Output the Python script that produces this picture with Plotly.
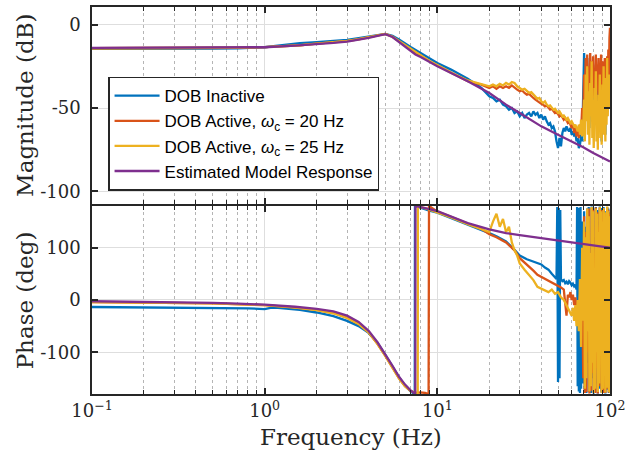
import plotly.graph_objects as go

# ---------------- data ----------------
# Noisy high-frequency region shared frequency grid (Hz)
f_noise = [70, 70.8, 71.5, 72.3, 73, 73.8, 74.5, 75.3, 76, 76.8, 77.5, 78.3, 79, 79.8,
           80.5, 81.3, 82, 82.8, 83.5, 84.3, 85, 85.8, 86.5, 87.3, 88, 88.8, 89.5, 90.3,
           91, 91.8, 92.5, 93.3, 94, 94.8, 95.5, 96.3, 97, 97.8, 98.5, 99.3, 100]

# Magnitude, mid-frequency grid 20..69 Hz
f_mid = [20, 21, 22, 23, 24, 25, 26, 27, 28, 29, 30, 31, 32, 33, 34, 35, 36, 37, 38, 39,
         40, 41, 42, 43, 44, 45, 46, 47, 48, 49, 50, 51, 52, 53, 54, 55, 56, 57, 58, 59,
         60, 61, 62, 63, 64, 65, 66, 67, 68, 69]

# Low-frequency grid for magnitude (smooth part)
f_low_mag = [0.1, 0.2, 0.3, 0.5, 0.7, 1.0, 1.3, 1.6, 2.0, 2.5, 3.0, 3.5, 4.0, 4.5, 5.0,
             5.5, 6.0, 7.0, 8.0, 9.0, 10, 12, 15, 18]

# DOB Inactive (blue)
mag_blue_low = [-14.5, -14.6, -14.5, -14.4, -14.2, -13.6, -12.2, -11.2, -10.6, -10.0, -9.2,
                -8.2, -7.2, -6.2, -5.6, -6.8, -9.0, -13.5, -17.0, -20.5, -23.0, -27.0, -32.5, -38.0]
mag_blue_mid = [-43, -44, -46, -45, -48, -49, -51, -50, -53, -52, -55, -53, -56, -54, -53, -55,
                -52, -54, -53, -56, -54, -57, -55, -58, -60, -59, -62, -61, -64, -70, -74, -68,
                -73, -65, -62, -64, -61, -63, -64, -62, -66, -64, -67, -65, -70, -68, -74, -72,
                -66, -70]
mag_blue_noise = [-45, -17, -60, -25, -50, -20, -55, -35, -62, -28, -48, -22, -58, -40, -66,
                  -30, -52, -24, -60, -38, -68, -33, -55, -27, -62, -42, -70, -31, -53, -26,
                  -60, -39, -66, -29, -55, -24, -50, -35, -45, -28, -40]

# DOB Active, wc = 20 Hz (orange)
mag_orange_low = [-14.2, -14.2, -14.2, -14.1, -13.9, -13.5, -13.0, -12.5, -11.5, -10.7, -9.9,
                  -8.9, -7.7, -6.5, -5.6, -7.3, -10.0, -15.0, -18.5, -22.0, -24.5, -29.0, -34.0, -36.0]
mag_orange_mid = [-38, -37, -38.5, -37, -38, -37, -38, -36.5, -38, -39, -40, -39.5, -41, -42,
                  -41.5, -43, -44, -45, -46, -47, -47.5, -48, -49, -48.5, -50, -51, -50.5, -52,
                  -53, -52.5, -54, -55, -54, -56, -57, -56, -58, -59, -58, -60, -62, -60, -65,
                  -62, -67, -63, -68, -60, -64, -50]
mag_orange_noise = [-55, -30, -48, -20, -40, -18, -45, -25, -38, -17, -42, -22, -35, -19, -44,
                    -28, -40, -18, -46, -24, -36, -20, -42, -26, -38, -18, -45, -22, -40, -28,
                    -35, -20, -44, -24, -38, -19, -42, -15, -35, -8, -2]

# DOB Active, wc = 25 Hz (yellow)
mag_yellow_low = [-14.2, -14.2, -14.2, -14.1, -13.9, -13.5, -13.0, -12.4, -11.4, -10.6, -9.8,
                  -8.8, -7.6, -6.4, -5.6, -7.3, -9.9, -14.8, -18.3, -21.8, -24.3, -28.8, -33.5, -35.5]
mag_yellow_mid = [-37, -36, -37, -35.5, -36.5, -35, -36, -34.5, -35, -37, -38, -39, -38.5, -40,
                  -41, -40.5, -42, -43, -44.5, -44, -46, -47, -46, -48, -49, -48.5, -50, -51,
                  -50.5, -52, -53, -52, -54, -55, -54.5, -56, -57, -56, -58, -59, -58, -60,
                  -61, -60, -62, -64, -60, -66, -57, -67]
mag_yellow_noise = [-62, -45, -70, -30, -58, -25, -66, -40, -72, -35, -55, -22, -68, -45, -74,
                    -38, -60, -28, -70, -50, -75, -42, -62, -30, -68, -48, -72, -36, -58, -25,
                    -66, -44, -70, -32, -60, -20, -55, -40, -50, -30, -45]

# Estimated model (purple)
f_model = [0.1, 0.2, 0.3, 0.5, 0.7, 1.0, 1.5, 2.0, 2.5, 3.0, 3.5, 4.0, 4.5, 5.0, 5.5, 6.0,
           6.5, 7.0, 7.3, 7.45, 7.47, 8.0, 9.0, 10, 12, 15, 20, 25, 30, 40, 50, 60, 70, 80, 90, 100]
mag_model = [-14.0, -14.0, -14.0, -14.0, -13.9, -13.6, -12.6, -11.8, -11.0, -10.2, -9.2, -8.0,
             -6.8, -5.8, -7.5, -10.5, -13.5, -16.0, -17.2, -17.8, -17.9, -19.5, -22.5, -25.0,
             -29.0, -34.0, -41.0, -48.0, -53.0, -61.0, -66.0, -70.0, -73.5, -77.0, -79.5, -82.0]
phase_model = [-2.5, -3.5, -4, -5.5, -7, -9, -13, -17, -22, -30, -42, -59, -81, -104, -126,
               -147, -162, -173, -179, -180, 180, 178, 174, 170, 160, 147, 135, 128, 124, 118,
               113, 109, 106, 104, 102, 100]

# Phase, blue
f_blue_ph = [0.1, 0.2, 0.3, 0.5, 0.8, 1.0, 1.08, 1.15, 1.3, 1.6, 2.0, 2.5, 3.0, 3.5, 4.0, 4.5,
             5.0, 5.5, 6.0, 6.5, 7.0, 7.3, 7.4, 7.42, 8, 9, 10, 12, 15, 18, 20, 22, 25, 28, 30,
             33, 36, 38, 40, 42, 44, 46, 48, 49, 49.5, 50, 50.5, 51, 51.5, 52, 53, 54, 55, 56,
             57, 58, 59, 60, 61, 62, 63, 64, 64.5, 65, 65.5, 66, 66.5, 67, 67.5, 68, 69]
phase_blue = [-13.5, -14, -14.5, -15, -16, -17.5, -15, -14.5, -16, -19, -24, -31, -40, -50,
              -63, -82, -105, -128, -148, -164, -175, -179, -180, 180, 176, 171, 167, 157, 145,
              134, 128, 122, 112, 96, 85, 78, 74, 71, 68, 62, 58, 50, 42, 40, 178, -157, 176,
              -150, 172, 40, 36, 38, 32, 35, 30, 36, 33, 28, 31, 26, 29, 20, 178, -165, 176,
              -175, 170, -178, 178, -170, 150]
phase_blue_noise = [-160, 170, -175, 140, -178, 175, -120, 178, -176, 100, -178, 179, -150, 175,
                    -179, 120, -176, 178, -160, 172, -179, 150, -170, 179, -140, 176, -178, 160,
                    -175, 178, -160, 170, -179, 130, -172, 178, -165, 175, -178, 168, -175]

# Phase, orange
f_orange_ph = [0.1, 0.3, 0.5, 1.0, 1.5, 2.0, 2.5, 3.0, 3.5, 4.0, 4.5, 5.0, 5.5, 6.0, 6.5, 7.0,
               7.5, 8.0, 8.5, 8.9, 8.95, 9.5, 10, 12, 15, 18, 20, 22, 25, 28, 30, 33, 36, 38,
               40, 44, 47, 50, 52, 54, 55, 56, 57, 58, 59, 60, 61, 62, 63, 64, 65, 66, 67, 68, 69]
phase_orange = [-4, -5, -6.5, -10, -14, -19, -25, -34, -46, -62, -84, -107, -130, -150, -165,
                -174, -178, -177, -178, -180, 180, 174, 169, 159, 146, 136, 126, 120, 110, 95,
                80, 68, 56, 48, 44, 38, 32, 28, 24, 20, -5, -30, 10, 5, 15, 0, 10, -10, 5, -20,
                -5, -35, 10, -60, 30]
phase_orange_noise = [-150, 160, -178, 130, -176, 170, -100, 175, -179, 80, -174, 176, -140, 172,
                      -177, 90, -178, 177, -130, 168, -179, 140, -165, 176, -110, 172, -176, 155,
                      -178, 175, -150, 165, -178, 120, -170, 177, -160, 172, -177, 165, -170]

# Phase, yellow
f_yellow_ph = [0.1, 0.3, 0.5, 1.0, 1.5, 2.0, 2.5, 3.0, 3.5, 4.0, 4.5, 5.0, 5.5, 6.0, 6.5, 7.0,
               7.5, 7.7, 7.72, 8, 9, 10, 12, 15, 18, 20, 21, 22, 23, 24, 25, 26, 27, 28, 29, 30,
               32, 34, 36, 38, 40, 42, 44, 46, 48, 50, 52, 54, 56, 58, 60, 61, 62, 63, 64, 65,
               66, 67, 68, 69]
phase_yellow = [-4, -5, -6.5, -10, -14.5, -19.5, -25.5, -34.5, -46, -62, -84, -107, -130, -150,
                -165, -174, -179, -180, 180, 178, 173, 168, 158, 145, 135, 130, 150, 165, 140,
                155, 130, 140, 110, 95, 85, 70, 58, 48, 38, 25, 22, 18, 15, 20, 12, 15, 5, 0,
                -10, -20, -30, -15, -40, -10, -50, 0, -60, 40, -90, 100]
phase_yellow_noise = [-40, 150, -170, 120, -150, 175, -60, 160, -175, 90, -165, 178, -120, 170,
                      -178, 60, -170, 175, -100, 165, -176, 130, -160, 178, -80, 170, -178, 150,
                      -170, 176, -130, 168, -177, 100, -168, 179, -150, 170, -176, 160, -178]

names = ["DOB Inactive",
         "DOB Active, <i>ω</i><sub>c</sub> = 20 Hz",
         "DOB Active, <i>ω</i><sub>c</sub> = 25 Hz",
         "Estimated Model Response"]
colors = ["#0072BD", "#D95319", "#EDB120", "#7E2F8E"]

x_major = [0.1, 1, 10, 100]
x_major_text = ["10<sup>−1</sup>", "10<sup>0</sup>", "10<sup>1</sup>", "10<sup>2</sup>"]
x_minor = [0.2, 0.3, 0.4, 0.5, 0.6, 0.7, 0.8, 0.9, 2, 3, 4, 5, 6, 7, 8, 9,
           20, 30, 40, 50, 60, 70, 80, 90]
mag_ticks = [-100, -50, 0]
mag_ticktext = ["-100", "-50", "0"]
ph_ticks = [-100, 0, 100]
ph_ticktext = ["-100", "0", "100"]

# ---------------- figure ----------------
fig = go.Figure()
LW = 2.3

mag_series = [
    (f_low_mag + f_mid + f_noise, mag_blue_low + mag_blue_mid + mag_blue_noise),
    (f_low_mag + f_mid + f_noise, mag_orange_low + mag_orange_mid + mag_orange_noise),
    (f_low_mag + f_mid + f_noise, mag_yellow_low + mag_yellow_mid + mag_yellow_noise),
    (f_model, mag_model),
]
ph_series = [
    (f_blue_ph + f_noise, phase_blue + phase_blue_noise),
    (f_orange_ph + f_noise, phase_orange + phase_orange_noise),
    (f_yellow_ph + f_noise, phase_yellow + phase_yellow_noise),
    (f_model, phase_model),
]

for i, (fx, fy) in enumerate(mag_series):
    fig.add_trace(go.Scatter(x=fx, y=fy, mode="lines", name=names[i],
                             line=dict(color=colors[i], width=LW),
                             xaxis="x", yaxis="y", showlegend=True))
for i, (fx, fy) in enumerate(ph_series):
    fig.add_trace(go.Scatter(x=fx, y=fy, mode="lines", name=names[i],
                             line=dict(color=colors[i], width=LW),
                             xaxis="x2", yaxis="y2", showlegend=False))

serif = "DejaVu Serif"
axcol = "#262626"

def xax(show_labels):
    d = dict(type="log", range=[-1, 2], domain=[0, 1],
             showline=True, linecolor=axcol, linewidth=1.5, mirror="ticks",
             ticks="inside", ticklen=6, tickwidth=1.5, tickcolor=axcol,
             showgrid=True, gridcolor="#dedede", gridwidth=1.3, zeroline=False,
             tickmode="array", tickvals=x_major,
             minor=dict(tickmode="array", tickvals=x_minor, ticks="inside", ticklen=4,
                        tickwidth=1, tickcolor=axcol, showgrid=True,
                        gridcolor="#b5b5b5", griddash="dot", gridwidth=1),
             showticklabels=show_labels)
    if show_labels:
        d.update(ticktext=x_major_text, tickfont=dict(family=serif, size=18, color=axcol))
    return d

def yax(rng, dom, vals, txt, anchor):
    return dict(range=rng, domain=dom, anchor=anchor,
                showline=True, linecolor=axcol, linewidth=1.5, mirror="ticks",
                ticks="inside", ticklen=6, tickwidth=1.5, tickcolor=axcol,
                showgrid=True, gridcolor="#dedede", gridwidth=1.3, zeroline=False,
                tickmode="array", tickvals=vals, ticktext=txt,
                tickfont=dict(family=serif, size=18, color=axcol),
                ticklabelstandoff=6)

top_dom = [0.491, 1.0]
bot_dom = [0.0, 0.486]

fig.update_layout(
    width=630, height=461,
    margin=dict(l=92, r=17, t=5, b=67),
    paper_bgcolor="white", plot_bgcolor="white",
    xaxis=dict(xax(False), anchor="y"),
    xaxis2=dict(xax(True), anchor="y2", matches="x"),
    yaxis=yax([-107.5, 10.5], top_dom, mag_ticks, mag_ticktext, "x"),
    yaxis2=yax([-180, 180], bot_dom, ph_ticks, ph_ticktext, "x2"),
    legend=dict(x=0.031, y=0.82, xanchor="left", yanchor="top",
                bgcolor="white", bordercolor=axcol, borderwidth=1.5,
                font=dict(family="Liberation Sans, Arial", size=17, color="#000000"),
                tracegroupgap=0, itemwidth=45),
    showlegend=True,
    annotations=[
        dict(text="Magnitude (dB)", textangle=-90, xref="paper", yref="paper",
             x=(25 - 92) / 521, y=(394 - 104) / 389, xanchor="center", yanchor="middle",
             showarrow=False, font=dict(family=serif, size=23, color=axcol)),
        dict(text="Phase (deg)", textangle=-90, xref="paper", yref="paper",
             x=(25 - 92) / 521, y=(394 - 299.5) / 389, xanchor="center", yanchor="middle",
             showarrow=False, font=dict(family=serif, size=23, color=axcol)),
        dict(text="Frequency (Hz)", xref="paper", yref="paper",
             x=0.5, y=(394 - 437) / 389, xanchor="center", yanchor="middle",
             showarrow=False, font=dict(family=serif, size=23, color=axcol)),
    ],
)

fig.write_html("out.html")
